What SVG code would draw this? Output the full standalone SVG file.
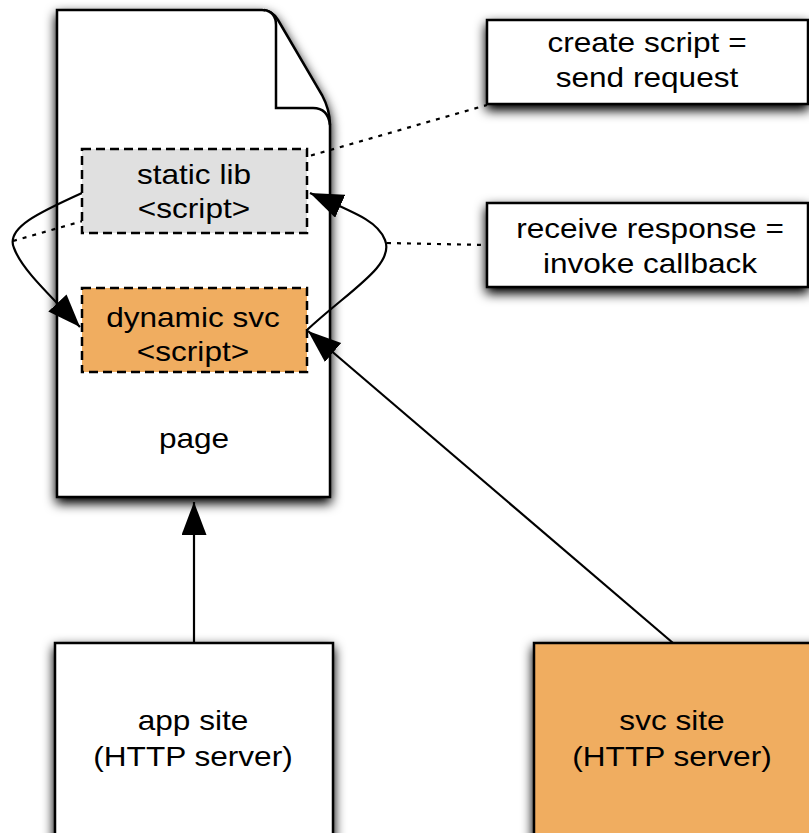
<svg xmlns="http://www.w3.org/2000/svg" width="809" height="833" viewBox="0 0 809 833">
  <style>
    .lbl { font-family: "Liberation Sans", Arial, Helvetica, sans-serif; font-size: 27px; fill: #000; text-anchor: middle; }
    .box { fill: #fff; stroke: #000; stroke-width: 2.5; }
    .orange { fill: #f0ad60; }
    .dash { stroke: #000; stroke-width: 2.5; stroke-dasharray: 9 5; }
    .conn { fill: none; stroke: #000; stroke-width: 2.2; }
    .dot { fill: none; stroke: #000; stroke-width: 2.2; stroke-dasharray: 4 6; }
  </style>
  <defs>
    <filter id="shadow" x="-30%" y="-30%" width="160%" height="160%">
      <feGaussianBlur in="SourceAlpha" stdDeviation="6"/>
      <feOffset dx="0" dy="5" result="blur"/>
      <feComponentTransfer in="blur" result="shade">
        <feFuncA type="linear" slope="1.1"/>
      </feComponentTransfer>
      <feMerge>
        <feMergeNode in="shade"/>
        <feMergeNode in="SourceGraphic"/>
      </feMerge>
    </filter>
    <marker id="arrow" markerUnits="userSpaceOnUse" markerWidth="34" markerHeight="26" refX="33" refY="12.5" orient="auto">
      <path d="M0,0 L33,12.5 L0,25 Z" fill="#000"/>
    </marker>
  </defs>

  <!-- page document with folded corner -->
  <g id="page">
    <path class="box" filter="url(#shadow)" d="M57,10 H262 Q272,10 278,20 L322,95 Q330,110 330,125 V497 H57 Z"/>
    <path class="box" d="M264,10 Q276,12 276,25 V108 H313 Q328,108 330,125"/>
    <text class="lbl" transform="translate(194 448) scale(1.17 1)">page</text>
  </g>

  <!-- connectors -->
  <g id="connectors">
    <path class="dot" d="M13,241 L487,105"/>
    <path class="dot" d="M387,243 L487,245"/>
    <path class="conn" marker-end="url(#arrow)" d="M82,193 C40,212 5,228 14,248 C22,270 50,295 80,327"/>
    <path class="conn" marker-end="url(#arrow)" d="M307,330 C350,290 395,265 385,240 C378,222 360,215 310,193"/>
    <path class="conn" marker-end="url(#arrow)" d="M673,643 L308,331"/>
    <path class="conn" marker-end="url(#arrow)" d="M194,643 L194,502"/>
  </g>

  <g id="static-lib">
    <rect class="dash" x="82" y="149" width="225" height="84" fill="#e0e0e0"/>
    <text class="lbl" transform="translate(194 184) scale(1.17 1)">static lib</text>
    <text class="lbl" transform="translate(194 218) scale(1.17 1)">&lt;script&gt;</text>
  </g>

  <g id="dynamic-svc">
    <rect class="dash orange" x="82" y="288" width="225" height="84"/>
    <text class="lbl" transform="translate(193 327) scale(1.17 1)">dynamic svc</text>
    <text class="lbl" transform="translate(193 361) scale(1.17 1)">&lt;script&gt;</text>
  </g>

  <g id="create-script">
    <rect class="box" filter="url(#shadow)" x="487" y="20" width="321" height="84"/>
    <text class="lbl" transform="translate(647 52) scale(1.17 1)">create script =</text>
    <text class="lbl" transform="translate(647 87) scale(1.17 1)">send request</text>
  </g>

  <g id="receive-response">
    <rect class="box" filter="url(#shadow)" x="487" y="203" width="321" height="84"/>
    <text class="lbl" transform="translate(650 238) scale(1.17 1)">receive response =</text>
    <text class="lbl" transform="translate(650 273) scale(1.17 1)">invoke callback</text>
  </g>

  <g id="app-site">
    <rect class="box" filter="url(#shadow)" x="55" y="643" width="278" height="210"/>
    <text class="lbl" transform="translate(193 730) scale(1.17 1)">app site</text>
    <text class="lbl" transform="translate(193 766) scale(1.17 1)">(HTTP server)</text>
  </g>

  <g id="svc-site">
    <rect class="box orange" filter="url(#shadow)" x="534" y="643" width="290" height="210"/>
    <text class="lbl" transform="translate(672 730) scale(1.17 1)">svc site</text>
    <text class="lbl" transform="translate(672 766) scale(1.17 1)">(HTTP server)</text>
  </g>
</svg>
